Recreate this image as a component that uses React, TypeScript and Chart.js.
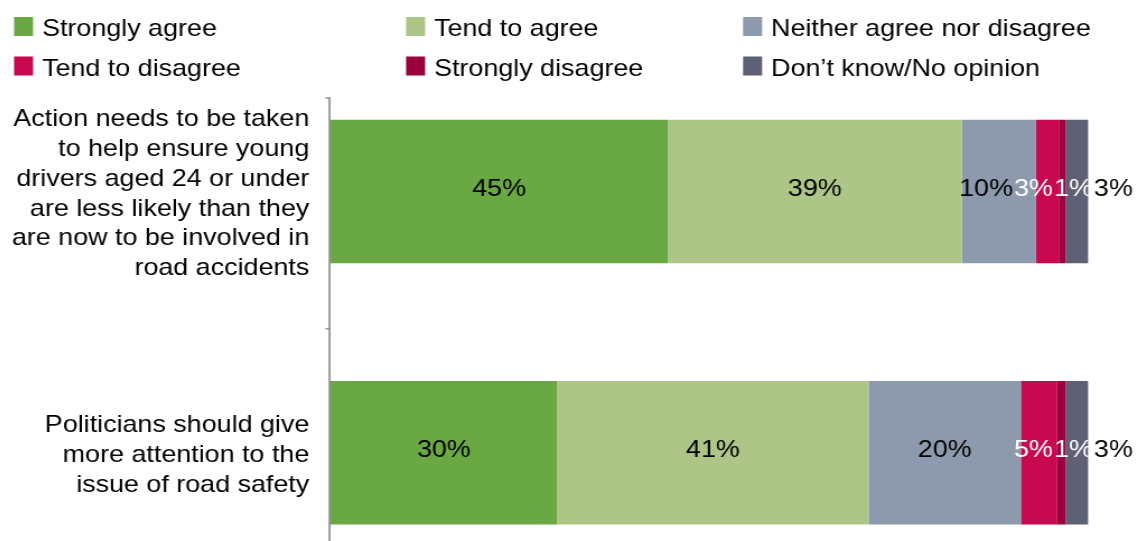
import React, { useEffect, useRef } from "react";
import { Chart, registerables } from "chart.js";

Chart.register(...registerables);

// ---------- data ----------
const CATEGORIES: string[][] = [
  [
    "Action needs to be taken",
    "to help ensure young",
    "drivers aged 24 or under",
    "are less likely than they",
    "are now to be involved in",
    "road accidents",
  ],
  ["Politicians should give", "more attention to the", "issue of road safety"],
];

const SERIES_NAMES = [
  "Strongly agree",
  "Tend to agree",
  "Neither agree nor disagree",
  "Tend to disagree",
  "Strongly disagree",
  "Don\u2019t know/No opinion",
];

const STRONGLY_AGREE = [44.5, 29.9];
const TEND_TO_AGREE = [38.8, 41.1];
const NEITHER = [9.8, 20.1];
const TEND_TO_DISAGREE = [3.1, 4.8];
const STRONGLY_DISAGREE = [0.8, 1.1];
const DONT_KNOW = [3.0, 3.0];

const SERIES_VALUES = [
  STRONGLY_AGREE,
  TEND_TO_AGREE,
  NEITHER,
  TEND_TO_DISAGREE,
  STRONGLY_DISAGREE,
  DONT_KNOW,
];

const SERIES_COLORS = ["#6aa843", "#adc587", "#8d99ac", "#c8084f", "#99003c", "#5e6175"];
const LABEL_COLORS = ["#000000", "#000000", "#000000", "#ffffff", "#ffffff", "#000000"];

// ---------- layout / style ----------
const S = 1.12; // horizontal stretch of the reference
const W = 1013;
const H = 580;
const FAMILY = '"Liberation Sans", Arial, Helvetica, sans-serif';
const FONT_SIZE = 24;
const FONT = `${FONT_SIZE}px ${FAMILY}`;
const OUTSIDE_GAP = 5;
const LABEL_GAP = 1;
const LABEL_DY = -2.5;

const LEGEND_COL_X = [5.4, 355.4, 656.3];
const LEGEND_ROW_BASE = [28, 67.5];
const LEGEND_BOX_W = 17;
const LEGEND_BOX_H = 19;
const LEGEND_TEXT_GAP = 8;

const AXIS_COLOR = "#969696";
const AXIS_TOP = 90;
const AXIS_TICKS = [90, 320.7];

export default function App() {
  const ref = useRef<HTMLCanvasElement>(null);

  useEffect(() => {
    const canvas = ref.current;
    if (!canvas) return;

    const legendPlugin = {
      id: "gridLegend",
      afterDraw(chart: any) {
        const ctx = chart.ctx;
        ctx.save();
        ctx.font = FONT;
        ctx.textBaseline = "alphabetic";
        ctx.textAlign = "left";
        chart.data.datasets.forEach((ds: any, j: number) => {
          const col = j % 3;
          const row = Math.floor(j / 3);
          const bx = LEGEND_COL_X[col];
          const base = LEGEND_ROW_BASE[row];
          ctx.fillStyle = ds.backgroundColor;
          ctx.fillRect(bx, base - LEGEND_BOX_H, LEGEND_BOX_W, LEGEND_BOX_H);
          ctx.fillStyle = "#000000";
          ctx.fillText(ds.label, bx + LEGEND_BOX_W + LEGEND_TEXT_GAP, base);
        });
        ctx.restore();
      },
    };

    const axisPlugin = {
      id: "axisLine",
      afterDatasetsDraw(chart: any) {
        const ctx = chart.ctx;
        const x = chart.chartArea.left - 0.9;
        ctx.save();
        ctx.strokeStyle = AXIS_COLOR;
        ctx.lineWidth = 1.9;
        ctx.beginPath();
        ctx.moveTo(x, AXIS_TOP - 0.7);
        ctx.lineTo(x, chart.height);
        ctx.stroke();
        ctx.lineWidth = 1.6;
        AXIS_TICKS.forEach((ty) => {
          ctx.beginPath();
          ctx.moveTo(x - 3.6, ty);
          ctx.lineTo(x, ty);
          ctx.stroke();
        });
        ctx.restore();
      },
    };

    const labelPlugin = {
      id: "segLabels",
      afterDatasetsDraw(chart: any) {
        const ctx = chart.ctx;
        ctx.save();
        ctx.font = FONT;
        ctx.textBaseline = "middle";
        ctx.textAlign = "left";
        const n = chart.data.labels.length;
        for (let i = 0; i < n; i++) {
          const items = chart.data.datasets.map((ds: any, d: number) => {
            const el = chart.getDatasetMeta(d).data[i];
            const p = el.getProps(["x", "base", "y"], true);
            const v = ds.data[i];
            const text = Math.round(v) + "%";
            const w = ctx.measureText(text).width;
            return {
              start: Math.min(p.x, p.base),
              end: Math.max(p.x, p.base),
              y: p.y,
              text,
              w,
              color: LABEL_COLORS[d],
              left: 0,
            };
          });
          const last = items.length - 1;
          items.forEach((it: any, k: number) => {
            if (k === last) it.left = it.end + OUTSIDE_GAP;
            else if (it.w > it.end - it.start) it.left = it.start;
            else it.left = (it.start + it.end) / 2 - it.w / 2;
          });
          for (let k = last - 1; k >= 0; k--) {
            const maxRight = items[k + 1].left - LABEL_GAP;
            if (items[k].left + items[k].w > maxRight) items[k].left = maxRight - items[k].w;
          }
          items.forEach((it: any) => {
            ctx.fillStyle = it.color;
            ctx.fillText(it.text, it.left, it.y + LABEL_DY);
          });
        }
        ctx.restore();
      },
    };

    const chart = new Chart(canvas, {
      type: "bar",
      data: {
        labels: CATEGORIES,
        datasets: SERIES_NAMES.map((name, j) => ({
          label: name,
          data: SERIES_VALUES[j],
          backgroundColor: SERIES_COLORS[j],
          borderWidth: 0,
          barPercentage: 0.549,
          categoryPercentage: 1,
        })),
      },
      options: {
        indexAxis: "y",
        responsive: false,
        animation: false,
        devicePixelRatio: 1,
        layout: { padding: { top: 52.9, bottom: 4.7, left: 0, right: 48.4 } },
        plugins: {
          legend: { display: false },
          tooltip: { enabled: false },
        },
        scales: {
          x: { stacked: true, min: 0, max: 100, display: false },
          y: {
            stacked: true,
            grid: { display: false, drawTicks: false },
            border: { display: false },
            ticks: {
              color: "#000000",
              font: { family: FAMILY, size: FONT_SIZE, lineHeight: 1.24 },
              padding: 19,
              labelOffset: 2.5,
              autoSkip: false,
            },
            afterFit(scale: any) {
              scale.width = 288;
              scale.paddingTop = 0;
              scale.paddingBottom = 0;
            },
          },
        },
      } as any,
      plugins: [axisPlugin, labelPlugin, legendPlugin],
    });

    return () => chart.destroy();
  }, []);

  return (
    <div style={{ width: 1134, height: 533, overflow: "hidden" }}>
      <canvas
        ref={ref}
        width={W}
        height={H}
        style={{
          display: "block",
          width: W,
          height: H,
          transform: `scaleX(${S})`,
          transformOrigin: "0 0",
        }}
      />
    </div>
  );
}
